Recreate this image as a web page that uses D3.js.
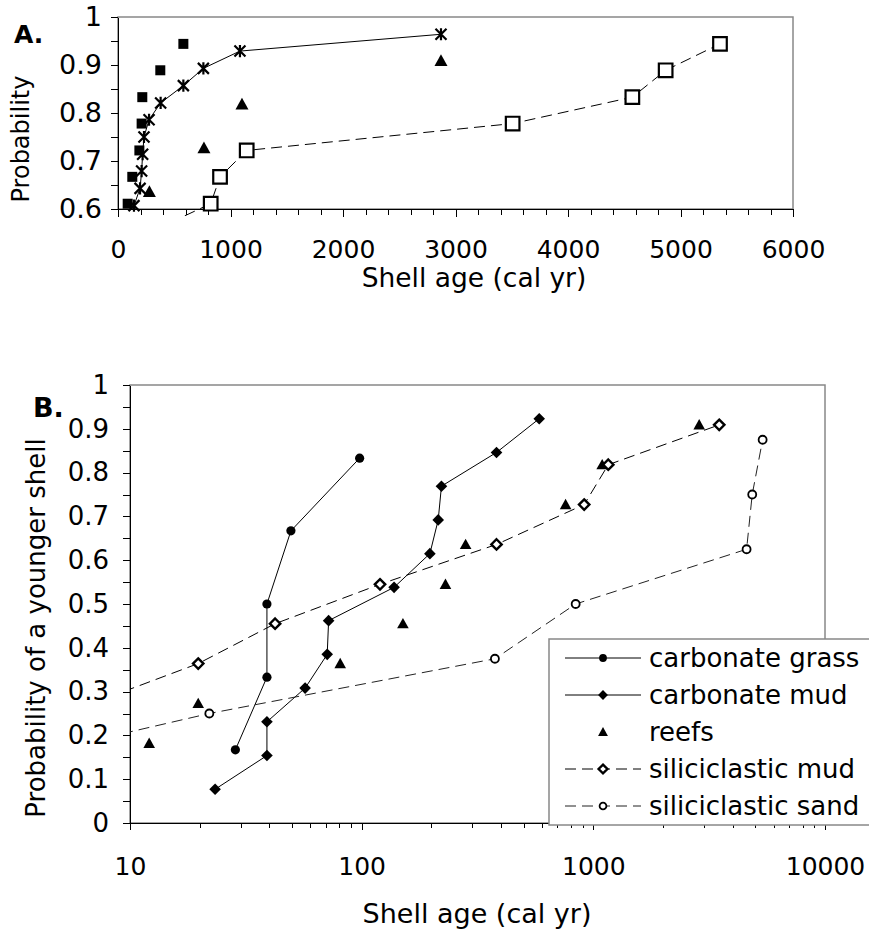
<!DOCTYPE html>
<html>
<head>
<meta charset="utf-8">
<script src="https://cdn.jsdelivr.net/npm/d3@7.9.0/dist/d3.min.js"></script>
<style>
  body { margin: 0; background: #fff; }
  svg { display: block; font-family: "DejaVu Sans", Verdana, sans-serif; }
  .axis path, .axis line { stroke: #000; shape-rendering: crispEdges; }
  .axis text { fill: #000; }
</style>
</head>
<body>
<svg id="chart" width="869" height="932"></svg>
<script>
// ---- panel A (linear age axis) ----
const aFilledSqAge  = [86, 127, 190, 210, 216, 376, 581];
const aFilledSqProb = [0.611, 0.667, 0.722, 0.778, 0.833, 0.889, 0.944];
const aStarAge  = [142, 196, 210, 219, 231, 276, 379, 581, 759, 1084, 2871];
const aStarProb = [0.607, 0.643, 0.679, 0.714, 0.750, 0.786, 0.821, 0.857, 0.893, 0.929, 0.964];
const aTriAge  = [279, 764, 1102, 2871];
const aTriProb = [0.636, 0.727, 0.818, 0.909];
const aOpenSqAge  = [320, 824, 907, 1144, 3508, 4572, 4868, 5351];
const aOpenSqProb = [0.556, 0.611, 0.667, 0.722, 0.778, 0.833, 0.889, 0.944];
const aXTicks = [0, 1000, 2000, 3000, 4000, 5000, 6000];
const aYTicks = [0.6, 0.7, 0.8, 0.9, 1];

// ---- panel B (log age axis) ----
const seriesNames = ['carbonate grass', 'carbonate mud', 'reefs', 'siliciclastic mud', 'siliciclastic sand'];
const grassAge  = [28.5, 39, 39, 49.5, 98];
const grassProb = [0.167, 0.333, 0.5, 0.667, 0.833];
const cMudAge  = [23.3, 39, 39, 57, 71, 72, 138, 197, 214, 221, 382, 584];
const cMudProb = [0.077, 0.154, 0.231, 0.308, 0.385, 0.462, 0.538, 0.615, 0.692, 0.769, 0.846, 0.923];
const reefAge  = [12.1, 19.7, 80.8, 150.7, 230, 281, 759, 1092, 2864];
const reefProb = [0.182, 0.273, 0.364, 0.455, 0.545, 0.636, 0.727, 0.818, 0.909];
const sMudAge  = [6.85, 19.7, 42.3, 120, 382, 913, 1160, 3495];
const sMudProb = [0.273, 0.364, 0.455, 0.545, 0.636, 0.727, 0.818, 0.909];
const sSandAge  = [2.1, 22, 376, 839, 4587, 4851, 5380];
const sSandProb = [0.125, 0.25, 0.375, 0.5, 0.625, 0.75, 0.875];
const bXTicks = [10, 100, 1000, 10000];
const bYTicks = [0, 0.1, 0.2, 0.3, 0.4, 0.5, 0.6, 0.7, 0.8, 0.9, 1];

const zip = (xs, ys) => xs.map((x, i) => ({ x, y: ys[i] }));

// marker shapes centred on 0,0
function markerPath(type, s) {
  switch (type) {
    case 'square': return `M${-s},${-s}H${s}V${s}H${-s}Z`;
    case 'diamond': return `M0,${-s}L${s},0L0,${s}L${-s},0Z`;
    case 'triangle': return `M0,${-s}L${s},${s * 0.8}L${-s},${s * 0.8}Z`;
    case 'circle': return `M${s},0A${s},${s} 0 1,1 ${-s},0A${s},${s} 0 1,1 ${s},0Z`;
    case 'star': return `M${-s},${-s}L${s},${s}M${-s},${s}L${s},${-s}M0,${-s * 1.1}L0,${s * 1.1}`;
  }
}

const svg = d3.select('#chart');

// d3 axes put their own font on the group, drop it so the page font is used
const useFont = size => g => {
  g.attr('font-family', null).attr('font-size', null);
  g.selectAll('text').attr('font-size', size);
};

function drawSeries(g, s, x, y, keep) {
  if (s.line) {
    g.append('path')
      .datum(s.data)
      .attr('clip-path', s.clip)
      .attr('fill', 'none')
      .attr('stroke', s.lineColor || '#000')
      .attr('stroke-width', 1)
      .attr('stroke-dasharray', s.dash || null)
      .attr('d', d3.line().x(d => x(d.x)).y(d => y(d.y)));
  }
  g.append('g').selectAll('path')
    .data(s.data.filter(keep))
    .join('path')
    .attr('transform', d => `translate(${x(d.x)},${y(d.y)})`)
    .attr('d', markerPath(s.shape, s.size))
    .attr('fill', s.fill)
    .attr('stroke', '#000')
    .attr('stroke-width', s.sw);
}

// ================= Panel A =================
const xA = d3.scaleLinear().domain([0, 6000]).range([118, 793]);
const yA = d3.scaleLinear().domain([0.6, 1]).range([209, 17]);

const defs = svg.append('defs');
defs.append('clipPath').attr('id', 'clipA')
  .append('rect').attr('x', 118).attr('y', 17).attr('width', 675).attr('height', 199);
defs.append('clipPath').attr('id', 'clipB')
  .append('rect').attr('x', 130).attr('y', 385).attr('width', 695).attr('height', 438);

svg.append('rect')
  .attr('x', 118).attr('y', 17).attr('width', 675).attr('height', 192)
  .attr('fill', 'none').attr('stroke', '#888').attr('stroke-width', 1.5);

const gA = svg.append('g');
gA.append('g').attr('class', 'axis').attr('transform', 'translate(0,209)')
  .call(d3.axisBottom(xA).tickValues(d3.range(0, 6001, 200)).tickSize(6).tickFormat(''))
  .call(g => g.select('.domain').remove());
gA.append('g').attr('class', 'axis').attr('transform', 'translate(0,209)')
  .call(d3.axisBottom(xA).tickValues(aXTicks).tickSize(8).tickSizeOuter(0).tickPadding(23).tickFormat(d3.format('d')))
  .call(useFont(25));
gA.append('g').attr('class', 'axis').attr('transform', 'translate(118,0)')
  .call(d3.axisLeft(yA).tickValues(d3.range(0.6, 1.001, 0.05)).tickSize(7).tickFormat(''))
  .call(g => g.select('.domain').remove());
gA.append('g').attr('class', 'axis').attr('transform', 'translate(118,0)')
  .call(d3.axisLeft(yA).tickValues(aYTicks).tickSize(7).tickSizeOuter(0).tickPadding(9).tickFormat(d3.format('~g')))
  .call(useFont(27));

const keepA = d => d.y >= 0.6;
const seriesA = [
  { data: zip(aFilledSqAge, aFilledSqProb), shape: 'square', size: 5, fill: '#000', sw: 0, line: false },
  { data: zip(aStarAge, aStarProb), shape: 'star', size: 5.5, fill: 'none', sw: 2.2, line: true, clip: 'url(#clipA)' },
  { data: zip(aTriAge, aTriProb), shape: 'triangle', size: 6.5, fill: '#000', sw: 0, line: false },
  { data: zip(aOpenSqAge, aOpenSqProb), shape: 'square', size: 6.8, fill: '#fff', sw: 2.2, line: true, dash: '11,6', clip: 'url(#clipA)' }
];
seriesA.forEach(s => drawSeries(gA, s, xA, yA, keepA));

svg.append('text').attr('x', 14).attr('y', 43).attr('font-size', 25).attr('font-weight', 'bold').text('A.');
svg.append('text').attr('transform', 'translate(29,139) rotate(-90)')
  .attr('text-anchor', 'middle').attr('font-size', 24).text('Probability');
svg.append('text').attr('x', 474).attr('y', 287)
  .attr('text-anchor', 'middle').attr('font-size', 26.5).text('Shell age (cal yr)');

// ================= Panel B =================
const xB = d3.scaleLog().domain([10, 10000]).range([130, 825]);
const yB = d3.scaleLinear().domain([0, 1]).range([823, 385]);

svg.append('rect')
  .attr('x', 130).attr('y', 385).attr('width', 695).attr('height', 438)
  .attr('fill', 'none').attr('stroke', '#888').attr('stroke-width', 1.5);

const gB = svg.append('g');
gB.append('g').attr('class', 'axis').attr('transform', 'translate(0,823)')
  .call(d3.axisBottom(xB).tickValues(xB.ticks().filter(v => !bXTicks.includes(v))).tickSize(5).tickFormat(''))
  .call(g => g.select('.domain').remove());
gB.append('g').attr('class', 'axis').attr('transform', 'translate(0,823)')
  .call(d3.axisBottom(xB).tickValues(bXTicks).tickSize(7).tickSizeOuter(0).tickPadding(27).tickFormat(d3.format('d')))
  .call(useFont(25));
gB.append('g').attr('class', 'axis').attr('transform', 'translate(130,0)')
  .call(d3.axisLeft(yB).tickValues(d3.range(0, 1.001, 0.05)).tickSize(7).tickFormat(''))
  .call(g => g.select('.domain').remove());
gB.append('g').attr('class', 'axis').attr('transform', 'translate(130,0)')
  .call(d3.axisLeft(yB).tickValues(bYTicks).tickSize(7).tickSizeOuter(0).tickPadding(14).tickFormat(d3.format('~g')))
  .call(useFont(26));

const keepB = d => d.x >= 10;
const seriesB = [
  { data: zip(grassAge, grassProb), shape: 'circle', size: 4.6, fill: '#000', sw: 0, line: true, clip: 'url(#clipB)' },
  { data: zip(cMudAge, cMudProb), shape: 'diamond', size: 5.8, fill: '#000', sw: 0, line: true, clip: 'url(#clipB)' },
  { data: zip(reefAge, reefProb), shape: 'triangle', size: 5.8, fill: '#000', sw: 0, line: false },
  { data: zip(sMudAge, sMudProb), shape: 'diamond', size: 5.2, fill: '#fff', sw: 2.4, line: true, dash: '11,6', clip: 'url(#clipB)' },
  { data: zip(sSandAge, sSandProb), shape: 'circle', size: 4, fill: '#fff', sw: 1.8, line: true, dash: '11,6', lineColor: '#222', clip: 'url(#clipB)' }
];
seriesB.forEach(s => drawSeries(gB, s, xB, yB, keepB));

svg.append('text').attr('x', 33).attr('y', 417).attr('font-size', 27).attr('font-weight', 'bold').text('B.');
svg.append('text').attr('transform', 'translate(45,628) rotate(-90)')
  .attr('text-anchor', 'middle').attr('font-size', 26)
  .text('Probability of a younger shell');
svg.append('text').attr('x', 477).attr('y', 923)
  .attr('text-anchor', 'middle').attr('font-size', 27).text('Shell age (cal yr)');

// legend
const legend = svg.append('g');
legend.append('rect')
  .attr('x', 549).attr('y', 639).attr('width', 340).attr('height', 186)
  .attr('fill', '#fff').attr('stroke', '#888').attr('stroke-width', 1.5);
const rows = legend.selectAll('g.row')
  .data(seriesB)
  .join('g')
  .attr('class', 'row')
  .attr('transform', (d, i) => `translate(0,${658 + i * 37})`);
rows.filter(d => d.line).append('line')
  .attr('x1', 565).attr('x2', 641)
  .attr('stroke', d => d.lineColor || '#000')
  .attr('stroke-dasharray', d => d.dash || null);
rows.append('path')
  .attr('transform', 'translate(603,0)')
  .attr('d', d => markerPath(d.shape, d.size * 0.85))
  .attr('fill', d => d.fill).attr('stroke', '#000').attr('stroke-width', d => d.sw);
rows.append('text')
  .attr('x', 649).attr('dy', '0.35em').attr('font-size', 26)
  .text((d, i) => seriesNames[i]);
</script>
</body>
</html>
